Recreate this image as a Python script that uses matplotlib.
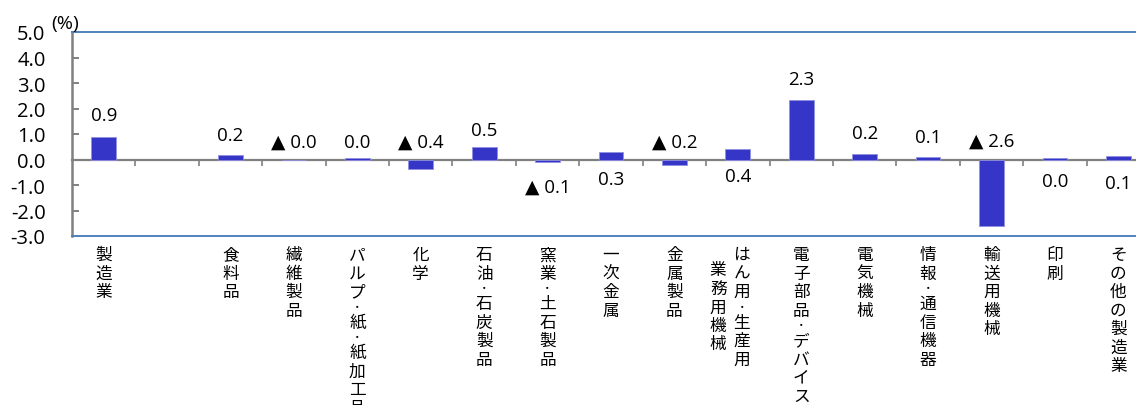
import numpy as np
import matplotlib
matplotlib.use("Agg")
import matplotlib.pyplot as plt
from matplotlib.transforms import offset_copy

plt.rcParams['font.family'] = ['Open Sans', 'DejaVu Sans', 'Noto Sans CJK JP']

categories = ["製造業", "", "食料品", "繊維製品", "パルプ・紙・紙加工品", "化学",
              "石油・石炭製品", "窯業・土石製品", "一次金属", "金属製品",
              "はん用・生産用・業務用機械", "電子部品・デバイス", "電気機械",
              "情報・通信機器", "輸送用機械", "印刷", "その他の製造業"]
values = [0.88, np.nan, 0.16, -0.02, 0.04, -0.36, 0.48, -0.1, 0.29, -0.2,
          0.43, 2.33, 0.2, 0.08, -2.6, 0.04, 0.13]
# where each value label sits (y in %)
label_y = [1.76, None, 0.98, 0.7, 0.67, 0.7, 1.14, -1.06, -0.78, 0.7,
           -0.66, 3.14, 1.02, 0.9, 0.74, -0.86, -0.94]
yticks = np.arange(-3, 6, 1)

blue_line = "#4F81BD"
gray = "#808080"
bar_color = "#3535C8"

fig = plt.figure(figsize=(11.36, 4.06), dpi=100)
ax = fig.add_axes([72 / 1136, 169 / 406, 1078 / 1136, 204 / 406])

x = np.arange(len(categories))
ax.bar(x, values, width=0.39, color=bar_color, edgecolor="#9090E0", linewidth=0.6, zorder=3)

ax.set_xlim(-0.5, len(categories) - 0.5)
ax.set_ylim(-3, 5)
ax.set_yticks(yticks)
ax.set_yticklabels([f"{v:.1f}" for v in yticks], fontsize=14.5)
ax.tick_params(axis="y", direction="in", length=5, width=1.4, color=gray, pad=19)

# zero line carries the category boundary ticks
ax.spines["bottom"].set_position(("data", 0))
ax.spines["bottom"].set_color(gray)
ax.spines["bottom"].set_linewidth(1.6)
ax.set_xticks(np.arange(0.5, len(categories) - 0.5, 1))
ax.set_xticklabels([])
ax.tick_params(axis="x", direction="out", length=4, width=1.2, color=gray)

ax.spines["left"].set_color(gray)
ax.spines["left"].set_linewidth(1.8)
ax.spines["right"].set_visible(False)
ax.spines["top"].set_color(blue_line)
ax.spines["top"].set_linewidth(1.4)
ax.axhline(-3, color=blue_line, linewidth=1.4, clip_on=False, zorder=4)

ax.text(-0.006, 1.0, "(%)", transform=ax.transAxes, fontsize=14,
        ha="center", va="bottom")

# value labels
for xi, v, ly in zip(x, values, label_y):
    if ly is None:
        continue
    txt = f"{abs(v):.1f}"
    if v < 0:
        txt = "▲ " + txt
    ax.text(xi, ly, txt, ha="center", va="center", fontsize=13.5, zorder=5)

# vertical category labels, one glyph at a time
trans = ax.get_xaxis_transform()
PITCH = 13.3   # points per character
DOT_PITCH = 8.6


def vertical_label(xpos, ypos, s):
    off = 0.0
    for ch in s:
        t = offset_copy(trans, fig=fig, x=0, y=-off, units="points")
        small = ch == "・"
        ax.text(xpos, ypos, ch, transform=t, family=["Noto Sans CJK JP"],
                fontsize=7.5 if small else 12, ha="center", va="top")
        off += DOT_PITCH if small else PITCH


for xi, name in zip(x, categories):
    if not name:
        continue
    if len(name) > 10:
        cut = name.index("・", 4)
        vertical_label(xi + 0.06, -0.05, name[:cut])
        vertical_label(xi - 0.31, -0.125, name[cut + 1:])
    else:
        vertical_label(xi, -0.05, name)

fig.savefig("out.png", dpi=100)
